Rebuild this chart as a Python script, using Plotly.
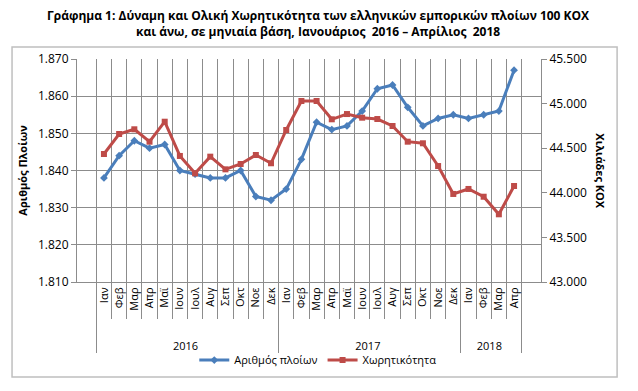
import plotly.graph_objects as go

years = ["2016"] * 12 + ["2017"] * 12 + ["2018"] * 4
months_base = ["Ιαν", "Φεβ", "Μαρ", "Απρ", "Μαϊ", "Ιουν", "Ιουλ", "Αυγ", "Σεπ", "Οκτ", "Νοε", "Δεκ"]
months = months_base + months_base + months_base[:4]

ships = [1838, 1844, 1848, 1846, 1847, 1840, 1839, 1838, 1838, 1840, 1833, 1832,
         1835, 1843, 1853, 1851, 1852, 1856, 1862, 1863, 1857, 1852, 1854, 1855,
         1854, 1855, 1856, 1867]
capacity = [44435, 44659, 44712, 44573, 44797, 44413, 44218, 44405, 44263, 44323, 44424, 44331,
            44704, 45029, 45029, 44824, 44883, 44842, 44827, 44749, 44573, 44555, 44300, 43987,
            44043, 43956, 43759, 44076]

FONT = "Open Sans"
BLUE = "#4A7EBB"
RED = "#BE4B48"
GRID = "#8C8C8C"

pad = "&nbsp;" * 6
month_labels = [pad + m for m in months]

fig = go.Figure()
fig.add_trace(go.Scatter(
    x=[years, month_labels], y=ships, name="Αριθμός πλοίων", mode="lines+markers",
    line=dict(color=BLUE, width=3), marker=dict(symbol="diamond", size=6, color=BLUE),
    yaxis="y"))
fig.add_trace(go.Scatter(
    x=[years, month_labels], y=capacity, name="Χωρητικότητα", mode="lines+markers",
    line=dict(color=RED, width=3), marker=dict(symbol="square", size=6, color=RED),
    yaxis="y2"))

fig.update_layout(
    width=638, height=391,
    margin=dict(l=77, r=97, t=59, b=109),
    paper_bgcolor="white", plot_bgcolor="white",
    separators=",.",
    font=dict(family=FONT, size=11, color="black"),
    xaxis=dict(
        type="multicategory", tickangle=-90, showgrid=True, gridcolor=GRID, gridwidth=1,
        ticks="outside", ticklen=36, tickcolor=GRID, showline=True, linecolor=GRID,
        dividercolor=GRID, dividerwidth=1, tickfont=dict(size=11)),
    yaxis=dict(
        range=[1810, 1870], dtick=10, tickformat=",d", showgrid=True, gridcolor=GRID,
        showline=True, linecolor=GRID, ticks="outside", ticklen=5, tickcolor=GRID,
        tickfont=dict(size=12), zeroline=False,
        title=dict(text="<b>Αριθμός Πλοίων</b>", font=dict(size=11), standoff=8)),
    yaxis2=dict(
        range=[43000, 45500], dtick=500, tickformat=",d", overlaying="y", side="right",
        showgrid=False, showline=True, linecolor=GRID, ticks="outside", ticklen=5,
        tickcolor=GRID, tickfont=dict(size=12), zeroline=False),
    legend=dict(orientation="h", x=0.52, xanchor="center", y=-0.35, yanchor="middle",
                font=dict(size=11), bgcolor="rgba(0,0,0,0)"),
    showlegend=True,
)

fig.add_annotation(
    text="<b>Γράφημα 1: Δύναμη και Ολική Χωρητικότητα των ελληνικών εμπορικών πλοίων 100 ΚΟΧ<br>και άνω, σε μηνιαία βάση, Ιανουάριος  2016 – Απρίλιος  2018</b>",
    xref="paper", yref="paper", x=0.52, y=1.24, xanchor="center", yanchor="top",
    showarrow=False, font=dict(size=12, family=FONT, color="black"))

fig.add_annotation(text="<b>Χιλιάδες ΚΟΧ</b>", textangle=90, xref="paper", yref="paper",
                   x=1.148, y=0.5, showarrow=False, font=dict(size=11, family=FONT))

fig.add_shape(type="rect", xref="paper", yref="paper", x0=-0.14, x1=1.164, y0=-0.426, y1=1.054,
              line=dict(color="#BFBFBF", width=1.5), fillcolor="rgba(0,0,0,0)", layer="below")

fig.write_html("out.html")
